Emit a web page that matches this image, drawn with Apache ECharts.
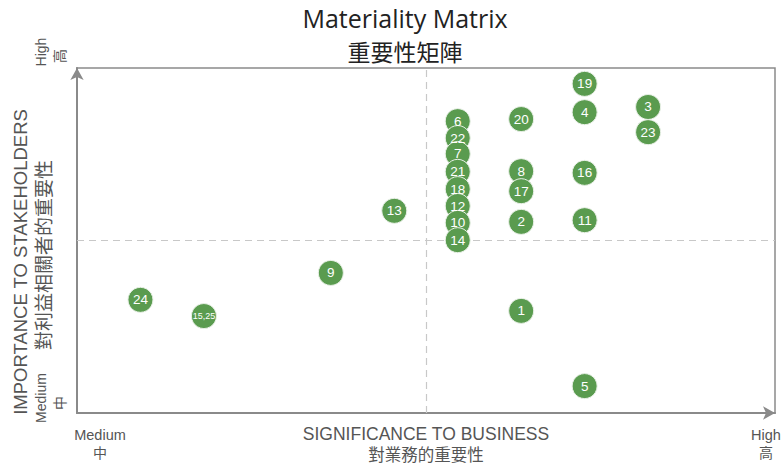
<!DOCTYPE html>
<html>
<head>
<meta charset="utf-8">
<script src="https://cdn.jsdelivr.net/npm/echarts@6/dist/echarts.min.js"></script>
<style>
  html, body { margin: 0; padding: 0; background: #fff; }
  #chart { width: 781px; height: 466px; }
</style>
</head>
<body>
<div id="chart"></div>
<script>
(function() {
  // topic numbers and their positions in the matrix
  var topics = ['19', '4', '3', '23', '6', '20', '22', '7', '21', '8', '16', '18', '17', '12', '13', '10', '2', '11', '14', '9', '24', '15,25', '1', '5'];
  var business = [8, 8, 9, 9, 6, 7, 6, 6, 6, 7, 8, 6, 7, 6, 5, 6, 7, 8, 6, 4, 1, 2, 7, 8];
  var stakeholders = [95.4, 87.2, 88.7, 81.4, 84.6, 85.2, 79.7, 75.1, 69.9, 70.1, 69.6, 64.9, 64.3, 60.0, 58.6, 55.1, 55.4, 55.9, 50.1, 40.6, 32.8, 28.1, 29.6, 7.8];
  var xMid = 5.5;
  var yMid = 50;

  var green = '#5a9b4f';
  var axisGrey = '#8a8a8a';
  var textGrey = '#555';
  var font = '"Liberation Sans", Arial, "Noto Sans CJK TC", sans-serif';
  var cjk = '"Noto Sans CJK TC", sans-serif';

  var points = topics.map(function(t, i) {
    var item = { value: [business[i], stakeholders[i]], name: t };
    if (t.length > 2) item.label = { fontSize: 9 };
    return item;
  });

  function txt(x, y, text, size, family, rot, fill) {
    return {
      type: 'text', x: x, y: y, rotation: rot || 0,
      style: { text: text, font: size + 'px ' + family, fill: fill || textGrey, align: 'center', verticalAlign: 'middle' }
    };
  }

  var chart = echarts.init(document.getElementById('chart'), null, { renderer: 'svg' });
  chart.setOption({
    animation: false,
    grid: { left: 77, right: 6, top: 68, bottom: 53, show: true, borderColor: axisGrey, borderWidth: 1.5 },
    xAxis: {
      type: 'value', min: 0, max: 11,
      axisLine: { show: true, symbol: ['none', 'arrow'], symbolSize: [10, 12], lineStyle: { color: axisGrey, width: 2 } },
      axisTick: { show: false }, axisLabel: { show: false }, splitLine: { show: false }
    },
    yAxis: {
      type: 'value', min: 0, max: 100,
      axisLine: { show: true, symbol: ['none', 'arrow'], symbolSize: [10, 12], lineStyle: { color: axisGrey, width: 2 } },
      axisTick: { show: false }, axisLabel: { show: false }, splitLine: { show: false }
    },
    series: [{
      type: 'scatter',
      data: points,
      symbolSize: 25,
      itemStyle: { color: green, borderColor: '#e8f0e6', borderWidth: 1, opacity: 1 },
      label: { show: true, position: 'inside', formatter: '{b}', color: '#fff', fontSize: 13.5, fontFamily: font },
      markLine: {
        silent: true, symbol: 'none', label: { show: false },
        lineStyle: { color: '#c8c8c8', type: [7, 5], width: 1.2 },
        data: [{ xAxis: xMid }, { yAxis: yMid }]
      },
      z: 5
    }],
    graphic: [
      txt(405, 18, 'Materiality Matrix', 25, '"Open Sans", "Noto Sans", sans-serif', 0, '#222'),
      txt(405, 51, '重要性矩陣', 23, cjk, 0, '#222'),
      // bottom axis texts
      txt(100, 435, 'Medium', 14.5, font),
      txt(100, 452, '中', 14, cjk),
      txt(426, 434, 'SIGNIFICANCE TO BUSINESS', 17.5, font),
      txt(426, 454, '對業務的重要性', 16.5, cjk),
      txt(766, 435, 'High', 14.5, font),
      txt(766, 452, '高', 14, cjk),
      // left axis texts, rotated
      txt(41, 52, 'High', 14, font, Math.PI / 2),
      txt(59, 56, '高', 14, cjk, Math.PI / 2),
      txt(20, 262, 'IMPORTANCE TO STAKEHOLDERS', 18.5, font, Math.PI / 2),
      txt(42, 255, '對利益相關者的重要性', 19, cjk, Math.PI / 2),
      txt(41, 398, 'Medium', 14, font, Math.PI / 2),
      txt(59, 403, '中', 14, cjk, Math.PI / 2)
    ]
  });

  window.addEventListener('resize', function() { chart.resize(); });
})();
</script>
</body>
</html>
